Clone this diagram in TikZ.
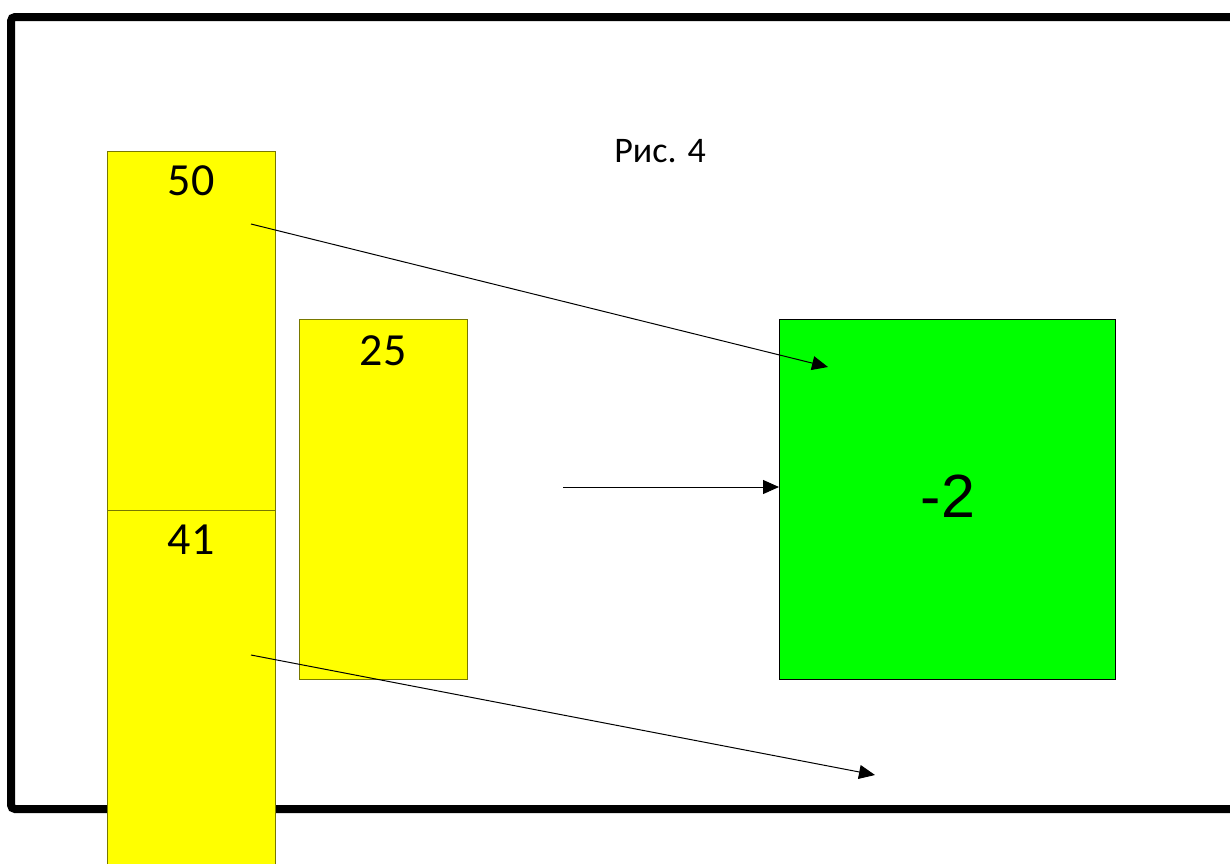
\documentclass[tikz,border=0pt]{standalone}
\usepackage{fontspec}
\setmainfont{Carlito}
\newfontfamily\arialfont{Liberation Sans}
\usetikzlibrary{arrows.meta}
\definecolor{boxyellow}{RGB}{255,255,0}
\definecolor{boxolive}{RGB}{120,120,0}
\definecolor{boxgreen}{RGB}{0,255,0}
\tikzset{
  cell/.style={draw=boxolive, fill=boxyellow, line width=0.9pt, inner sep=0pt, anchor=north west},
  target/.style={draw=black, fill=boxgreen, line width=0.9pt, inner sep=0pt, anchor=north west},
  num/.style={anchor=base, inner sep=0pt, font=\fontsize{46}{50}\selectfont},
  pointer/.style={line width=1pt, -{Triangle[length=16pt,width=14pt]}},
  frame/.style={line width=8pt, rounded corners=4pt}
}
\begin{document}
\begin{tikzpicture}[x=1pt, y=-1pt]
\useasboundingbox (0,0) rectangle (1230,863);
% outer frame, open to the right edge
\draw[frame] (1250,17) -- (11,17) -- (11,809) -- (1250,809);
% caption
\node[anchor=base, inner sep=0pt, font=\fontsize{36}{40}\selectfont] (caption) at (660,162) {Рис. 4};
% yellow cells
\node[cell, minimum width=168pt, minimum height=359pt] (c50) at (107,151) {};
\node[cell, minimum width=168pt, minimum height=370pt] (c41) at (107,510) {};
\node[cell, minimum width=168pt, minimum height=360pt] (c25) at (299,319) {};
% green cell
\node[target, minimum width=336pt, minimum height=360pt] (res) at (779,319) {};
% numbers
\node[num] (t50) at (191,195) {50};
\node[num] (t41) at (191,554) {41};
\node[num] (t25) at (383,365) {25};
\node[anchor=base, inner sep=0pt, font=\arialfont\fontsize{61}{66}\selectfont] (t2) at (948,517) {-2};
% arrow endpoints
\coordinate (s1) at (251,224);
\coordinate (e1) at (828,367);
\coordinate (s2) at (563,487);
\coordinate (e2) at (res.west |- s2);
\coordinate (s3) at (251,655);
\coordinate (e3) at (875,775);
\draw[pointer] (s1) -- (e1);
\draw[pointer] (s2) -- (e2);
\draw[pointer] (s3) -- (e3);
\end{tikzpicture}
\end{document}
